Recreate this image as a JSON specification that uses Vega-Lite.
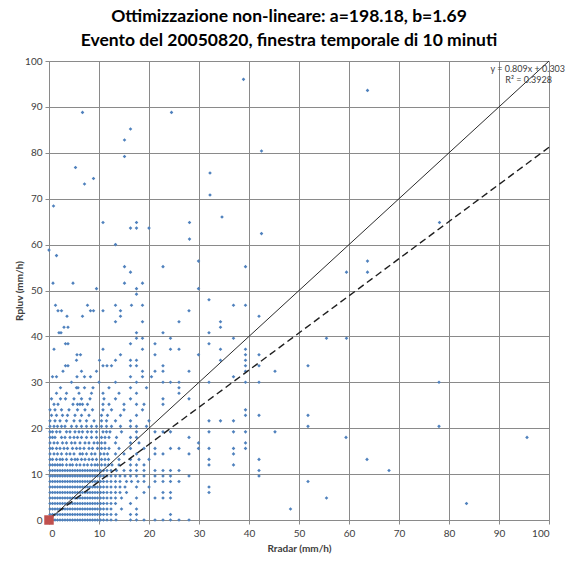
{
  "$schema": "https://vega.github.io/schema/vega-lite/v6.json",
  "width": 500,
  "height": 459,
  "autosize": {"type": "none"},
  "padding": {"left": 49, "top": 61, "right": 26, "bottom": 45},
  "background": "white",
  "config": {"view": {"stroke": null}, "font": "Lato"},
  "title": {
    "text": ["Ottimizzazione non-lineare: a=198.18, b=1.69", "Evento del 20050820, finestra temporale di 10 minuti"],
    "font": "Lato", "fontSize": 17.5, "fontWeight": "bold", "color": "#000000",
    "lineHeight": 24, "anchor": "middle", "offset": 7, "dx": -10
  },
  "datasets": {
    "pts": [
      {"x":0.2,"y":0},{"x":0.7,"y":0},{"x":1.2,"y":0},{"x":1.7,"y":0},{"x":2.2,"y":0},{"x":2.7,"y":0},{"x":3.2,"y":0},{"x":3.7,"y":0},{"x":4.2,"y":0},{"x":4.7,"y":0},{"x":5.2,"y":0},{"x":5.7,"y":0},{"x":6.2,"y":0},{"x":6.7,"y":0},{"x":7.2,"y":0},{"x":7.7,"y":0},{"x":8.2,"y":0},{"x":8.7,"y":0},{"x":9.2,"y":0},{"x":9.7,"y":0},
      {"x":10.3,"y":0},{"x":10.9,"y":0},{"x":11.6,"y":0},{"x":12.4,"y":0},{"x":13.4,"y":0},{"x":16.3,"y":0},{"x":17.5,"y":0},{"x":19,"y":0},{"x":21.2,"y":0},{"x":22.8,"y":0},{"x":24.3,"y":0},{"x":26,"y":0},{"x":28,"y":0},
      {"x":0.2,"y":1.2},{"x":0.7,"y":1.2},{"x":1.2,"y":1.2},{"x":1.7,"y":1.2},{"x":2.2,"y":1.2},{"x":2.7,"y":1.2},{"x":3.2,"y":1.2},{"x":3.7,"y":1.2},{"x":4.2,"y":1.2},{"x":4.7,"y":1.2},{"x":5.2,"y":1.2},{"x":5.7,"y":1.2},{"x":6.2,"y":1.2},{"x":6.7,"y":1.2},{"x":7.2,"y":1.2},{"x":7.7,"y":1.2},{"x":8.2,"y":1.2},{"x":8.7,"y":1.2},{"x":9.2,"y":1.2},{"x":9.7,"y":1.2},
      {"x":10.3,"y":1.2},{"x":10.9,"y":1.2},{"x":11.6,"y":1.2},{"x":12.4,"y":1.2},{"x":13.4,"y":1.2},{"x":16.3,"y":1.2},{"x":17.5,"y":1.2},{"x":24.3,"y":1.2},
      {"x":0.2,"y":2.4},{"x":0.7,"y":2.4},{"x":1.2,"y":2.4},{"x":1.7,"y":2.4},{"x":2.2,"y":2.4},{"x":2.7,"y":2.4},{"x":3.2,"y":2.4},{"x":3.7,"y":2.4},{"x":4.2,"y":2.4},{"x":4.7,"y":2.4},{"x":5.2,"y":2.4},{"x":5.7,"y":2.4},{"x":6.2,"y":2.4},{"x":6.7,"y":2.4},{"x":7.2,"y":2.4},{"x":7.7,"y":2.4},{"x":8.2,"y":2.4},{"x":8.7,"y":2.4},{"x":9.2,"y":2.4},{"x":9.7,"y":2.4},
      {"x":10.3,"y":2.4},{"x":10.9,"y":2.4},{"x":11.6,"y":2.4},{"x":12.4,"y":2.4},{"x":14.5,"y":2.4},{"x":17.5,"y":2.4},{"x":48.3,"y":2.4},
      {"x":0.2,"y":3.6},{"x":0.7,"y":3.6},{"x":1.2,"y":3.6},{"x":1.7,"y":3.6},{"x":2.2,"y":3.6},{"x":2.7,"y":3.6},{"x":3.2,"y":3.6},{"x":3.7,"y":3.6},{"x":4.2,"y":3.6},{"x":4.7,"y":3.6},{"x":5.2,"y":3.6},{"x":5.7,"y":3.6},{"x":6.2,"y":3.6},{"x":6.7,"y":3.6},{"x":7.2,"y":3.6},{"x":7.7,"y":3.6},{"x":8.2,"y":3.6},{"x":8.7,"y":3.6},{"x":9.2,"y":3.6},{"x":9.7,"y":3.6},
      {"x":10.3,"y":3.6},{"x":10.9,"y":3.6},{"x":11.6,"y":3.6},{"x":12.4,"y":3.6},{"x":13.3,"y":3.6},{"x":16.3,"y":3.6},{"x":83.5,"y":3.6},
      {"x":0.2,"y":4.8},{"x":0.7,"y":4.8},{"x":1.2,"y":4.8},{"x":1.7,"y":4.8},{"x":2.2,"y":4.8},{"x":2.7,"y":4.8},{"x":3.2,"y":4.8},{"x":3.7,"y":4.8},{"x":4.2,"y":4.8},{"x":4.7,"y":4.8},{"x":5.2,"y":4.8},{"x":5.7,"y":4.8},{"x":6.2,"y":4.8},{"x":6.7,"y":4.8},{"x":7.2,"y":4.8},{"x":7.7,"y":4.8},{"x":8.2,"y":4.8},{"x":8.7,"y":4.8},{"x":9.2,"y":4.8},{"x":9.7,"y":4.8},
      {"x":10.3,"y":4.8},{"x":10.9,"y":4.8},{"x":11.6,"y":4.8},{"x":12.4,"y":4.8},{"x":13.3,"y":4.8},{"x":14.5,"y":4.8},{"x":17.5,"y":4.8},{"x":21.2,"y":4.8},{"x":22.8,"y":4.8},{"x":24.3,"y":4.8},{"x":55.5,"y":4.8},
      {"x":0.2,"y":6},{"x":0.7,"y":6},{"x":1.2,"y":6},{"x":1.7,"y":6},{"x":2.2,"y":6},{"x":2.7,"y":6},{"x":3.2,"y":6},{"x":3.7,"y":6},{"x":4.2,"y":6},{"x":4.7,"y":6},{"x":5.2,"y":6},{"x":5.7,"y":6},{"x":6.2,"y":6},{"x":6.7,"y":6},{"x":7.2,"y":6},{"x":7.7,"y":6},{"x":8.2,"y":6},{"x":8.7,"y":6},{"x":9.2,"y":6},{"x":9.7,"y":6},
      {"x":10.3,"y":6},{"x":10.9,"y":6},{"x":11.6,"y":6},{"x":12.4,"y":6},{"x":13.3,"y":6},{"x":14.2,"y":6},{"x":15.5,"y":6},{"x":19,"y":6},{"x":22.8,"y":6},{"x":24.3,"y":6},{"x":32,"y":6},
      {"x":0.2,"y":7.2},{"x":0.7,"y":7.2},{"x":1.2,"y":7.2},{"x":1.7,"y":7.2},{"x":2.2,"y":7.2},{"x":2.7,"y":7.2},{"x":3.2,"y":7.2},{"x":3.7,"y":7.2},{"x":4.2,"y":7.2},{"x":4.7,"y":7.2},{"x":5.2,"y":7.2},{"x":5.7,"y":7.2},{"x":6.2,"y":7.2},{"x":6.7,"y":7.2},{"x":7.2,"y":7.2},{"x":7.7,"y":7.2},{"x":8.2,"y":7.2},{"x":8.7,"y":7.2},{"x":9.2,"y":7.2},{"x":9.7,"y":7.2},
      {"x":10.3,"y":7.2},{"x":10.9,"y":7.2},{"x":11.6,"y":7.2},{"x":12.4,"y":7.2},{"x":13.3,"y":7.2},{"x":14.2,"y":7.2},{"x":15.2,"y":7.2},{"x":17.5,"y":7.2},{"x":20,"y":7.2},{"x":32,"y":7.2},
      {"x":0.2,"y":8.4},{"x":0.7,"y":8.4},{"x":1.2,"y":8.4},{"x":1.7,"y":8.4},{"x":2.2,"y":8.4},{"x":2.7,"y":8.4},{"x":3.2,"y":8.4},{"x":3.7,"y":8.4},{"x":4.2,"y":8.4},{"x":4.7,"y":8.4},{"x":5.2,"y":8.4},{"x":5.7,"y":8.4},{"x":6.2,"y":8.4},{"x":6.7,"y":8.4},{"x":7.2,"y":8.4},{"x":7.7,"y":8.4},{"x":8.2,"y":8.4},{"x":8.7,"y":8.4},{"x":9.2,"y":8.4},{"x":9.7,"y":8.4},
      {"x":10.3,"y":8.4},{"x":10.9,"y":8.4},{"x":11.6,"y":8.4},{"x":12.4,"y":8.4},{"x":13.3,"y":8.4},{"x":14.2,"y":8.4},{"x":15.5,"y":8.4},{"x":16.5,"y":8.4},{"x":17.8,"y":8.4},{"x":19,"y":8.4},{"x":21.2,"y":8.4},{"x":22.8,"y":8.4},{"x":24.3,"y":8.4},{"x":26,"y":8.4},{"x":51.8,"y":8.4},
      {"x":0.2,"y":9.6},{"x":0.7,"y":9.6},{"x":1.2,"y":9.6},{"x":1.7,"y":9.6},{"x":2.2,"y":9.6},{"x":2.7,"y":9.6},{"x":3.2,"y":9.6},{"x":3.7,"y":9.6},{"x":4.2,"y":9.6},{"x":4.7,"y":9.6},{"x":5.2,"y":9.6},{"x":5.7,"y":9.6},{"x":6.2,"y":9.6},{"x":6.7,"y":9.6},{"x":7.2,"y":9.6},{"x":7.7,"y":9.6},{"x":8.2,"y":9.6},{"x":8.7,"y":9.6},{"x":9.2,"y":9.6},{"x":9.7,"y":9.6},
      {"x":10.3,"y":9.6},{"x":10.9,"y":9.6},{"x":11.6,"y":9.6},{"x":12.4,"y":9.6},{"x":13.3,"y":9.6},{"x":14.2,"y":9.6},{"x":15.2,"y":9.6},{"x":16.3,"y":9.6},{"x":17.5,"y":9.6},{"x":19,"y":9.6},{"x":21.2,"y":9.6},{"x":22.8,"y":9.6},{"x":24.3,"y":9.6},{"x":28,"y":9.6},{"x":42,"y":9.6},
      {"x":0.2,"y":10.8},{"x":0.7,"y":10.8},{"x":1.2,"y":10.8},{"x":1.7,"y":10.8},{"x":2.2,"y":10.8},{"x":2.7,"y":10.8},{"x":3.2,"y":10.8},{"x":3.7,"y":10.8},{"x":4.2,"y":10.8},{"x":4.7,"y":10.8},{"x":5.2,"y":10.8},{"x":5.7,"y":10.8},{"x":6.2,"y":10.8},{"x":6.7,"y":10.8},{"x":7.2,"y":10.8},{"x":7.7,"y":10.8},{"x":8.2,"y":10.8},{"x":8.7,"y":10.8},{"x":9.2,"y":10.8},{"x":9.7,"y":10.8},
      {"x":10.3,"y":10.8},{"x":10.9,"y":10.8},{"x":11.6,"y":10.8},{"x":12.4,"y":10.8},{"x":13.5,"y":10.8},{"x":15,"y":10.8},{"x":16.3,"y":10.8},{"x":17.5,"y":10.8},{"x":19,"y":10.8},{"x":21.2,"y":10.8},{"x":22.8,"y":10.8},{"x":24.3,"y":10.8},{"x":26,"y":10.8},{"x":42,"y":10.8},{"x":68,"y":10.8},
      {"x":0.2,"y":12},{"x":0.7,"y":12},{"x":1.2,"y":12},{"x":1.7,"y":12},{"x":2.2,"y":12},{"x":2.7,"y":12},{"x":3.5,"y":12},{"x":4.2,"y":12},{"x":4.7,"y":12},{"x":5.5,"y":12},{"x":6.2,"y":12},{"x":7,"y":12},{"x":7.7,"y":12},{"x":8.5,"y":12},{"x":9.2,"y":12},{"x":9.7,"y":12},{"x":10.5,"y":12},{"x":11.2,"y":12},{"x":11.9,"y":12},{"x":12.6,"y":12},{"x":14,"y":12},{"x":16.3,"y":12},{"x":17.5,"y":12},{"x":19,"y":12},{"x":32,"y":12},{"x":36.9,"y":12},
      {"x":0.2,"y":13.2},{"x":0.7,"y":13.2},{"x":1.5,"y":13.2},{"x":2.2,"y":13.2},{"x":2.7,"y":13.2},{"x":3.5,"y":13.2},{"x":4.5,"y":13.2},{"x":5.2,"y":13.2},{"x":5.7,"y":13.2},{"x":6.5,"y":13.2},{"x":7.2,"y":13.2},{"x":8,"y":13.2},{"x":8.7,"y":13.2},{"x":9.5,"y":13.2},{"x":10.5,"y":13.2},{"x":11.2,"y":13.2},{"x":11.9,"y":13.2},{"x":14,"y":13.2},{"x":16.3,"y":13.2},{"x":18,"y":13.2},{"x":20,"y":13.2},{"x":32,"y":13.2},{"x":42,"y":13.2},{"x":63.6,"y":13.2},
      {"x":0.2,"y":14.4},{"x":1,"y":14.4},{"x":1.7,"y":14.4},{"x":2.5,"y":14.4},{"x":3.5,"y":14.4},{"x":4.2,"y":14.4},{"x":5,"y":14.4},{"x":6.2,"y":14.4},{"x":6.7,"y":14.4},{"x":7.5,"y":14.4},{"x":8.5,"y":14.4},{"x":9.2,"y":14.4},{"x":10.3,"y":14.4},{"x":11,"y":14.4},{"x":11.7,"y":14.4},{"x":13.3,"y":14.4},{"x":15,"y":14.4},{"x":17.5,"y":14.4},{"x":21.2,"y":14.4},{"x":22.8,"y":14.4},{"x":28,"y":14.4},{"x":36.9,"y":14.4},
      {"x":0.2,"y":15.6},{"x":0.7,"y":15.6},{"x":1.5,"y":15.6},{"x":2.2,"y":15.6},{"x":3,"y":15.6},{"x":3.7,"y":15.6},{"x":4.7,"y":15.6},{"x":5.5,"y":15.6},{"x":6.2,"y":15.6},{"x":7,"y":15.6},{"x":8,"y":15.6},{"x":8.7,"y":15.6},{"x":9.7,"y":15.6},{"x":10.5,"y":15.6},{"x":11.2,"y":15.6},{"x":12,"y":15.6},{"x":14,"y":15.6},{"x":16.3,"y":15.6},{"x":19,"y":15.6},{"x":21.2,"y":15.6},{"x":24.3,"y":15.6},{"x":26,"y":15.6},{"x":29.9,"y":15.6},{"x":32,"y":15.6},{"x":36.9,"y":15.6},{"x":39.3,"y":15.6},
      {"x":0.2,"y":16.8},{"x":1,"y":16.8},{"x":1.7,"y":16.8},{"x":2.7,"y":16.8},{"x":3.5,"y":16.8},{"x":4.5,"y":16.8},{"x":5.2,"y":16.8},{"x":6.2,"y":16.8},{"x":7.2,"y":16.8},{"x":8,"y":16.8},{"x":9,"y":16.8},{"x":9.7,"y":16.8},{"x":10.5,"y":16.8},{"x":11.2,"y":16.8},{"x":13.3,"y":16.8},{"x":16.3,"y":16.8},{"x":18,"y":16.8},{"x":29.9,"y":16.8},{"x":39.3,"y":16.8},
      {"x":0.2,"y":18},{"x":0.7,"y":18},{"x":1.2,"y":18},{"x":2.5,"y":18},{"x":3.2,"y":18},{"x":4.2,"y":18},{"x":5,"y":18},{"x":5.7,"y":18},{"x":6.5,"y":18},{"x":7.5,"y":18},{"x":8.5,"y":18},{"x":9.5,"y":18},{"x":10.5,"y":18},{"x":11.2,"y":18},{"x":12,"y":18},{"x":13.5,"y":18},{"x":16.3,"y":18},{"x":17.5,"y":18},{"x":28,"y":18},{"x":59.4,"y":18},{"x":95.6,"y":18},
      {"x":0.2,"y":19.2},{"x":0.7,"y":19.2},{"x":1.5,"y":19.2},{"x":2.2,"y":19.2},{"x":3.5,"y":19.2},{"x":4.2,"y":19.2},{"x":5.2,"y":19.2},{"x":6,"y":19.2},{"x":6.7,"y":19.2},{"x":7.7,"y":19.2},{"x":8.5,"y":19.2},{"x":9.5,"y":19.2},{"x":10.8,"y":19.2},{"x":11.5,"y":19.2},{"x":12.2,"y":19.2},{"x":14.5,"y":19.2},{"x":17.5,"y":19.2},{"x":21.2,"y":19.2},{"x":22.8,"y":19.2},{"x":24.3,"y":19.2},{"x":32,"y":19.2},{"x":36.9,"y":19.2},{"x":39.3,"y":19.2},{"x":45.2,"y":19.2},
      {"x":0.2,"y":20.4},{"x":1,"y":20.4},{"x":1.7,"y":20.4},{"x":2.5,"y":20.4},{"x":3.2,"y":20.4},{"x":4.5,"y":20.4},{"x":5.5,"y":20.4},{"x":6.5,"y":20.4},{"x":7.5,"y":20.4},{"x":8.5,"y":20.4},{"x":9.5,"y":20.4},{"x":10.5,"y":20.4},{"x":11.5,"y":20.4},{"x":12.5,"y":20.4},{"x":14.3,"y":20.4},{"x":16.3,"y":20.4},{"x":17.5,"y":20.4},{"x":19.5,"y":20.4},{"x":51.8,"y":20.4},{"x":78,"y":20.4},
      {"x":0.2,"y":21.6},{"x":1.2,"y":21.6},{"x":2.2,"y":21.6},{"x":3.5,"y":21.6},{"x":5,"y":21.6},{"x":6.2,"y":21.6},{"x":7.5,"y":21.6},{"x":9,"y":21.6},{"x":10.5,"y":21.6},{"x":11.5,"y":21.6},{"x":13.3,"y":21.6},{"x":16.3,"y":21.6},{"x":20,"y":21.6},{"x":32,"y":21.6},{"x":34.3,"y":21.6},{"x":36.9,"y":21.6},
      {"x":0.5,"y":22.8},{"x":1.5,"y":22.8},{"x":2.7,"y":22.8},{"x":3.7,"y":22.8},{"x":5.2,"y":22.8},{"x":6.5,"y":22.8},{"x":8,"y":22.8},{"x":10.5,"y":22.8},{"x":11.7,"y":22.8},{"x":14.3,"y":22.8},{"x":17.5,"y":22.8},{"x":39.3,"y":22.8},{"x":42,"y":22.8},{"x":51.8,"y":22.8},
      {"x":0.2,"y":24},{"x":1.2,"y":24},{"x":2.5,"y":24},{"x":4,"y":24},{"x":5.7,"y":24},{"x":7.2,"y":24},{"x":8.7,"y":24},{"x":10.8,"y":24},{"x":12.5,"y":24},{"x":15,"y":24},{"x":18.7,"y":24},{"x":39.3,"y":24},
      {"x":1,"y":25.2},{"x":1.8,"y":25.2},{"x":4.8,"y":25.2},{"x":5.7,"y":25.2},{"x":6.2,"y":25.2},{"x":6.7,"y":25.2},{"x":7.7,"y":25.2},{"x":10.8,"y":25.2},{"x":12,"y":25.2},{"x":15,"y":25.2},{"x":17.5,"y":25.2},{"x":19,"y":25.2},{"x":22.8,"y":25.2},
      {"x":0.5,"y":26.4},{"x":2.3,"y":26.4},{"x":3.3,"y":26.4},{"x":5,"y":26.4},{"x":6.5,"y":26.4},{"x":8.2,"y":26.4},{"x":11,"y":26.4},{"x":13.3,"y":26.4},{"x":16.3,"y":26.4},{"x":22.8,"y":26.4},{"x":28,"y":26.4},
      {"x":1.5,"y":27.6},{"x":3.5,"y":27.6},{"x":6,"y":27.6},{"x":8.5,"y":27.6},{"x":10.8,"y":27.6},{"x":14,"y":27.6},{"x":17.5,"y":27.6},{"x":26,"y":27.6},
      {"x":2.3,"y":28.8},{"x":5.5,"y":28.8},{"x":5.8,"y":28.8},{"x":7.1,"y":28.8},{"x":8.8,"y":28.8},{"x":12,"y":28.8},{"x":16.3,"y":28.8},{"x":19.5,"y":28.8},{"x":26,"y":28.8},
      {"x":4.5,"y":30},{"x":10,"y":30},{"x":13.3,"y":30},{"x":17.5,"y":30},{"x":22.8,"y":30},{"x":24.3,"y":30},{"x":26,"y":30},{"x":32,"y":30},{"x":39.3,"y":30},{"x":42,"y":30},{"x":78,"y":30},
      {"x":0.7,"y":31.2},{"x":1.5,"y":31.2},{"x":5.6,"y":31.2},{"x":7.1,"y":31.2},{"x":8.3,"y":31.2},{"x":16.3,"y":31.2},{"x":18.7,"y":31.2},{"x":20.5,"y":31.2},{"x":36.9,"y":31.2},
      {"x":2.8,"y":32.4},{"x":6.5,"y":32.4},{"x":9.5,"y":32.4},{"x":18.7,"y":32.4},{"x":21.2,"y":32.4},{"x":22.8,"y":32.4},{"x":28,"y":32.4},{"x":39.3,"y":32.4},{"x":45.2,"y":32.4},
      {"x":3.3,"y":33.6},{"x":3.8,"y":33.6},{"x":10.8,"y":33.6},{"x":11.6,"y":33.6},{"x":12.5,"y":33.6},{"x":16.3,"y":33.6},{"x":17.5,"y":33.6},{"x":22.8,"y":33.6},{"x":39.3,"y":33.6},{"x":42,"y":33.6},{"x":51.8,"y":33.6},
      {"x":5.5,"y":34.8},{"x":10.1,"y":34.8},{"x":13.3,"y":34.8},{"x":16.3,"y":34.8},{"x":17.5,"y":34.8},{"x":34.3,"y":34.8},{"x":39.3,"y":34.8},
      {"x":5.6,"y":36},{"x":6.3,"y":36},{"x":14.3,"y":36},{"x":21.2,"y":36},{"x":29.9,"y":36},{"x":39.3,"y":36},{"x":42,"y":36},
      {"x":1,"y":37.2},{"x":10.8,"y":37.2},{"x":18.7,"y":37.2},{"x":24.3,"y":37.2},{"x":26,"y":37.2},{"x":34.3,"y":37.2},{"x":39.3,"y":37.2},
      {"x":3.3,"y":38.4},{"x":3.8,"y":38.4},{"x":16.3,"y":38.4},{"x":21.2,"y":38.4},{"x":32,"y":38.4},
      {"x":17.5,"y":39.6},{"x":18.7,"y":39.6},{"x":24.3,"y":39.6},{"x":36.9,"y":39.6},{"x":55.5,"y":39.6},{"x":59.5,"y":39.6},
      {"x":2,"y":40.8},{"x":2.4,"y":40.8},{"x":17.5,"y":40.8},{"x":22.8,"y":40.8},{"x":32,"y":40.8},
      {"x":3,"y":42},{"x":3.8,"y":42},{"x":34.3,"y":42},
      {"x":13.3,"y":43.2},{"x":18.7,"y":43.2},{"x":26,"y":43.2},{"x":34.3,"y":43.2},
      {"x":3.6,"y":44.4},{"x":6.7,"y":44.4},{"x":14.3,"y":44.4},{"x":42,"y":44.4},
      {"x":1.8,"y":45.6},{"x":2.5,"y":45.6},{"x":8.3,"y":45.6},{"x":8.9,"y":45.6},{"x":10.8,"y":45.6},{"x":14.3,"y":45.6},{"x":28,"y":45.6},
      {"x":1.3,"y":46.8},{"x":7.7,"y":46.8},{"x":13.3,"y":46.8},{"x":16.5,"y":46.8},{"x":18.7,"y":46.8},{"x":36.9,"y":46.8},{"x":39.3,"y":46.8},
      {"x":32,"y":48},{"x":17.5,"y":49.2},
      {"x":9.5,"y":50.4},{"x":17.5,"y":50.4},{"x":29.9,"y":50.4},
      {"x":0.8,"y":51.6},{"x":4.8,"y":51.6},{"x":15.1,"y":51.6},{"x":18.7,"y":51.6},
      {"x":16.3,"y":54},{"x":59.5,"y":54},{"x":63.7,"y":54},
      {"x":15.1,"y":55.2},{"x":22.8,"y":55.2},{"x":39.3,"y":55.2},
      {"x":29.9,"y":56.4},{"x":63.7,"y":56.4},
      {"x":1.5,"y":57.6},{"x":0,"y":58.8},{"x":13.3,"y":60},{"x":28.1,"y":61.2},
      {"x":16.3,"y":63.6},{"x":17.5,"y":63.6},{"x":20,"y":63.6},
      {"x":10.8,"y":64.8},{"x":17.5,"y":64.8},{"x":28.1,"y":64.8},{"x":78.1,"y":64.8},
      {"x":0.9,"y":68.4},{"x":7.1,"y":73.2},{"x":8.9,"y":74.4},{"x":5.3,"y":76.8},
      {"x":15.1,"y":79.2},{"x":15.1,"y":82.8},{"x":16.3,"y":85.2},
      {"x":6.7,"y":88.8},{"x":24.5,"y":88.8},{"x":63.7,"y":93.6},
      {"x":38.9,"y":96},{"x":42.5,"y":80.4},{"x":42.5,"y":62.4},{"x":32.2,"y":75.6},{"x":32.2,"y":70.8},{"x":34.6,"y":66}
    ],
    "bisector": [{"x": 0, "y": 0}, {"x": 100, "y": 100}],
    "fit": [{"x": 0, "y": 0.303}, {"x": 100, "y": 81.203}],
    "origin": [{"x": 0, "y": 0}],
    "eqLine": [{"x": 88.3, "y": 98.3, "label": "y = 0.809x + 0.303"}],
    "r2Line": [{"x": 100.6, "y": 95.8, "label": "R² = 0.3928"}]
  },
  "layer": [
    {
      "data": {"name": "pts"},
      "mark": {"type": "point", "shape": "diamond", "filled": true, "size": 13, "color": "#4F81BD", "opacity": 1},
      "encoding": {
        "x": {
          "field": "x", "type": "quantitative",
          "scale": {"domain": [0, 100], "nice": false, "zero": false},
          "axis": {
            "title": "Rradar (mm/h)", "values": [0, 10, 20, 30, 40, 50, 60, 70, 80, 90, 100],
            "grid": true, "gridColor": "#8a8a8a", "gridWidth": 1,
            "domainColor": "#8a8a8a", "tickColor": "#8a8a8a", "tickSize": 4,
            "labelFont": "Lato", "labelFontSize": 10, "labelColor": "#404040", "labelPadding": 4,
            "titleFont": "Lato", "titleFontSize": 10, "titleFontWeight": "bold", "titleColor": "#404040", "titlePadding": 5
          }
        },
        "y": {
          "field": "y", "type": "quantitative",
          "scale": {"domain": [0, 100], "nice": false, "zero": false},
          "axis": {
            "title": "Rpluv (mm/h)", "values": [0, 10, 20, 30, 40, 50, 60, 70, 80, 90, 100],
            "grid": true, "gridColor": "#8a8a8a", "gridWidth": 1,
            "domainColor": "#8a8a8a", "tickColor": "#8a8a8a", "tickSize": 4,
            "labelFont": "Lato", "labelFontSize": 10, "labelColor": "#404040", "labelPadding": 3,
            "titleFont": "Lato", "titleFontSize": 10, "titleFontWeight": "bold", "titleColor": "#404040", "titlePadding": 0
          }
        }
      }
    },
    {
      "data": {"name": "bisector"},
      "mark": {"type": "line", "color": "#2b2b2b", "strokeWidth": 1},
      "encoding": {"x": {"field": "x", "type": "quantitative"}, "y": {"field": "y", "type": "quantitative"}}
    },
    {
      "data": {"name": "fit"},
      "mark": {"type": "line", "color": "#1f1f1f", "strokeWidth": 1.4, "strokeDash": [7, 4]},
      "encoding": {"x": {"field": "x", "type": "quantitative"}, "y": {"field": "y", "type": "quantitative"}}
    },
    {
      "data": {"name": "origin"},
      "mark": {"type": "square", "color": "#C0504D", "size": 90, "opacity": 1},
      "encoding": {"x": {"field": "x", "type": "quantitative"}, "y": {"field": "y", "type": "quantitative"}}
    },
    {
      "data": {"name": "eqLine"},
      "mark": {"type": "text", "font": "Lato", "fontSize": 9, "color": "#404040", "baseline": "middle", "align": "left"},
      "encoding": {
        "x": {"field": "x", "type": "quantitative"},
        "y": {"field": "y", "type": "quantitative"},
        "text": {"field": "label"}
      }
    },
    {
      "data": {"name": "r2Line"},
      "mark": {"type": "text", "font": "Lato", "fontSize": 9, "color": "#404040", "baseline": "middle", "align": "right"},
      "encoding": {
        "x": {"field": "x", "type": "quantitative"},
        "y": {"field": "y", "type": "quantitative"},
        "text": {"field": "label"}
      }
    }
  ]
}
